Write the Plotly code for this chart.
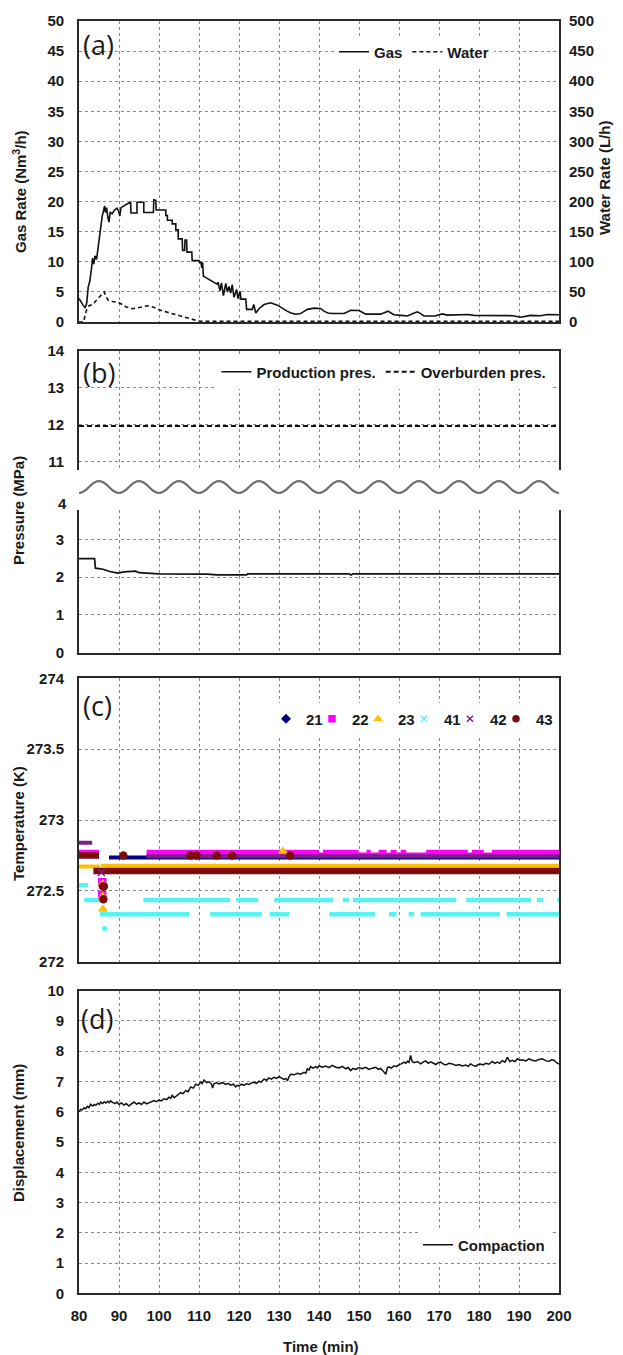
import plotly.graph_objects as go
import numpy as np

# ---------------- data ----------------
# (a) gas production rate, Nm3/h
gas_readings = [
    (80.0, 3.9), (80.5, 3.3), (81.0, 2.8), (81.5, 2.4), (81.9, 3.0), (82.3, 5.8), (82.7, 6.8),
    (83.1, 8.8), (83.4, 10.6), (83.7, 9.6), (84.0, 11.0), (84.4, 10.4), (84.8, 12.6), (85.1, 14.0),
    (85.4, 16.2), (85.8, 17.6), (86.1, 18.4), (86.4, 19.3), (86.6, 18.2), (86.9, 19.0), (87.2, 17.4),
    (87.5, 16.6), (87.8, 18.2), (88.3, 18.0), (88.9, 18.6), (89.5, 18.9), (89.9, 18.4), (90.2, 17.6),
    (90.5, 19.0), (91.3, 19.4), (92.0, 19.6), (92.9, 19.9), (93.0, 18.1), (94.5, 18.1), (94.5, 19.9),
    (96.2, 19.9), (96.2, 18.2), (98.6, 18.2), (98.7, 20.3), (99.2, 20.2), (99.3, 18.6), (101.7, 18.6),
    (101.7, 17.7), (102.1, 17.7), (102.1, 16.9), (103.3, 16.9), (103.3, 16.3), (104.2, 16.3),
    (104.2, 15.3), (104.8, 15.3), (104.8, 13.8), (105.8, 13.8), (105.9, 11.9), (106.4, 11.9),
    (106.5, 13.6), (106.9, 13.6), (107.0, 11.6), (108.2, 11.6), (108.3, 10.2), (110.0, 10.2),
    (110.1, 9.9), (110.5, 9.9), (110.7, 9.0), (110.9, 9.9), (111.1, 7.6), (111.4, 7.5), (112.5, 7.1),
    (113.5, 6.7), (114.5, 6.3), (114.75, 6.6), (115.25, 5.2), (115.6, 6.5), (116.1, 4.4), (116.7, 6.4),
    (117.1, 5.0), (117.5, 5.9), (117.9, 4.8), (118.3, 6.2), (118.75, 4.1), (119.4, 5.4), (119.75, 3.9),
    (120.25, 5.1), (120.5, 3.8), (121.7, 3.8), (121.9, 2.1), (123.3, 2.1), (123.7, 2.9), (124.2, 1.5),
    (125.0, 2.2), (126.25, 2.9), (127.9, 3.2), (129.6, 2.8), (131.0, 2.2), (132.0, 1.8), (133.0, 1.5),
    (134.2, 1.3), (135.4, 1.4), (136.3, 1.8), (137.1, 2.1), (138.8, 2.3), (140.4, 2.25), (141.25, 1.8),
    (142.2, 1.5), (143.3, 1.4), (146.25, 1.4), (147.2, 1.7), (147.9, 1.95), (150.0, 1.9), (150.8, 1.6),
    (151.7, 1.3), (155.4, 1.3), (156.3, 1.6), (157.25, 1.8), (158.0, 1.5), (158.75, 1.2), (160.5, 1.1),
    (162.1, 1.0), (163.5, 1.4), (164.6, 1.7), (165.4, 1.4), (166.25, 1.0), (169.0, 1.0), (170.0, 1.2),
    (170.8, 1.35), (172.1, 1.15), (174.0, 1.2), (176.25, 1.3), (177.3, 1.25), (178.75, 1.1),
    (185.4, 1.1), (187.0, 1.15), (188.5, 1.05), (190.4, 0.8), (191.5, 0.95), (192.9, 1.1),
    (195.4, 1.05), (197.1, 1.25), (200.0, 1.2),
]
gas_time = [p[0] for p in gas_readings]
gas_rate = [p[1] for p in gas_readings]

# (a) water production rate, L/h
water_time = [80.0, 81.2, 81.5, 81.9, 82.5, 83.4, 84.6, 85.6, 86.3, 86.8, 87.3, 88.4, 89.7, 90.8,
              91.8, 93.4, 95.1, 97.2, 98.5, 100.2, 102.7, 105.2, 107.7, 109.8, 111.1, 150.0, 200.0]
water_rate = [0, 0, 12, 20, 27, 29, 38, 45, 50, 42, 36, 34, 33, 29,
              25, 22, 24, 27, 25, 20, 15, 10, 5.5, 1.8, 1.0, 1.0, 1.0]

# (b) pressures, MPa
prod_time = [80.0, 83.9, 84.1, 86.0, 87.7, 89.7, 91.2, 94.2, 95.0, 100.0, 112.0, 114.5, 121.9,
             122.2, 147.5, 148.0, 148.5, 157.0, 157.4, 157.8, 200.0]
prod_pres = [2.49, 2.49, 2.24, 2.21, 2.15, 2.11, 2.14, 2.16, 2.12, 2.09, 2.08, 2.06, 2.06,
             2.09, 2.09, 2.06, 2.09, 2.09, 2.07, 2.09, 2.09]
over_time = [80.0, 200.0]
over_pres = [11.97, 11.97]

# (c) temperature sensors: (start min, end min, K) runs
sensor_names = ["21", "22", "23", "41", "42", "43"]
runs_21 = [(87.5, 200.0, 272.735)]
runs_22 = [(80.0, 85.0, 272.775), (96.9, 200.0, 272.755), (96.9, 140.0, 272.775), (141.0, 149.9, 272.775),
           (151.9, 152.9, 272.775), (154.9, 156.9, 272.775), (157.9, 159.4, 272.775),
           (160.4, 161.8, 272.775), (166.8, 177.2, 272.775), (178.2, 181.2, 272.775),
           (183.2, 200.0, 272.775)]
runs_23 = [(80.0, 85.3, 272.672), (85.5, 200.0, 272.678)]
runs_41 = [(80.0, 82.3, 272.54), (81.3, 85.5, 272.435), (96.1, 117.8, 272.435), (119.3, 124.8, 272.435),
           (128.8, 143.6, 272.435), (146.0, 147.5, 272.435), (148.5, 174.3, 272.435),
           (176.8, 193.0, 272.435), (194.5, 196.0, 272.435), (199.6, 200.0, 272.435),
           (85.2, 107.5, 272.335), (112.8, 125.7, 272.335), (127.7, 132.6, 272.335),
           (142.6, 154.0, 272.335), (157.5, 159.4, 272.335), (162.4, 163.8, 272.335),
           (165.4, 185.2, 272.335), (186.9, 200.0, 272.335), (85.8, 87.0, 272.235)]
runs_42 = [(80.0, 83.3, 272.84), (96.9, 200.0, 272.745)]
runs_43 = [(80.0, 85.0, 272.75), (83.6, 200.0, 272.64)]
sensor_runs = [runs_21, runs_22, runs_23, runs_41, runs_42, runs_43]
# isolated readings
pts_22_t, pts_22_T = [85.8, 85.8], [272.56, 272.47]
pts_23_t, pts_23_T = [85.9, 85.9, 86.0, 131.0], [272.55, 272.46, 272.37, 272.78]
pts_42_t, pts_42_T = [85.6], [272.63]
pts_43_t, pts_43_T = [86.0, 86.2, 86.1, 91.1, 107.9, 109.4, 114.4, 118.3, 132.8], \
                     [272.53, 272.53, 272.44, 272.75, 272.75, 272.75, 272.75, 272.75, 272.75]

# (d) compaction displacement, mm
compaction_readings = [
    (80.0, 6.00), (80.4, 6.08), (80.8, 6.06), (81.3, 6.13), (81.7, 6.10), (82.1, 6.18), (82.5, 6.14),
    (82.9, 6.25), (83.4, 6.19), (83.8, 6.24), (84.2, 6.21), (84.7, 6.28), (85.1, 6.24), (85.4, 6.32),
    (85.9, 6.27), (86.3, 6.33), (86.7, 6.29), (87.2, 6.35), (87.6, 6.30), (87.9, 6.36), (88.4, 6.31),
    (89.0, 6.27), (89.5, 6.32), (90.0, 6.24), (90.6, 6.29), (91.25, 6.22), (91.8, 6.27), (92.5, 6.19),
    (93.1, 6.26), (93.75, 6.32), (94.4, 6.25), (95.0, 6.29), (95.6, 6.24), (96.25, 6.32), (96.9, 6.26),
    (97.5, 6.29), (98.1, 6.33), (98.75, 6.37), (99.4, 6.33), (100.0, 6.39), (100.6, 6.36),
    (101.25, 6.43), (101.9, 6.40), (102.5, 6.48), (102.9, 6.44), (103.3, 6.54), (103.8, 6.46),
    (104.2, 6.50), (104.8, 6.58), (105.4, 6.63), (106.0, 6.60), (106.7, 6.70), (107.3, 6.66),
    (107.9, 6.82), (108.6, 6.78), (109.2, 6.91), (109.8, 6.87), (110.4, 6.98), (110.8, 6.93),
    (111.25, 7.05), (111.9, 6.96), (112.5, 6.99), (113.1, 6.92), (113.4, 6.78), (113.75, 6.93),
    (114.4, 6.96), (115.0, 6.92), (115.8, 6.96), (116.7, 6.90), (117.3, 6.94), (117.9, 6.88),
    (118.6, 6.91), (119.2, 6.82), (119.6, 6.88), (120.0, 6.85), (120.6, 6.91), (121.25, 6.87),
    (121.9, 6.93), (122.5, 6.90), (123.1, 6.95), (123.75, 6.97), (124.4, 6.94), (125.0, 7.01),
    (125.6, 6.98), (126.25, 7.08), (126.9, 7.04), (127.5, 7.12), (128.1, 7.08), (128.75, 7.14),
    (129.4, 7.10), (130.0, 7.16), (130.6, 7.12), (131.25, 7.07), (131.7, 7.10), (132.1, 7.02),
    (132.5, 7.15), (132.9, 7.24), (133.8, 7.22), (134.6, 7.27), (135.4, 7.24), (136.25, 7.30),
    (136.7, 7.27), (137.1, 7.42), (137.5, 7.38), (137.9, 7.49), (138.5, 7.44), (139.2, 7.49),
    (139.6, 7.45), (140.0, 7.52), (140.8, 7.47), (141.7, 7.51), (142.5, 7.46), (143.3, 7.53),
    (144.2, 7.47), (145.0, 7.45), (145.8, 7.50), (146.7, 7.42), (147.3, 7.46), (147.9, 7.36),
    (148.5, 7.43), (149.2, 7.40), (150.0, 7.46), (150.8, 7.42), (151.7, 7.47), (152.5, 7.40),
    (153.3, 7.44), (154.2, 7.47), (154.8, 7.40), (155.4, 7.43), (156.0, 7.35), (156.7, 7.24),
    (157.1, 7.45), (157.5, 7.48), (158.1, 7.44), (158.75, 7.52), (159.4, 7.49), (160.0, 7.56),
    (160.6, 7.58), (161.25, 7.64), (161.7, 7.60), (162.1, 7.67), (162.5, 7.63), (162.9, 7.86),
    (163.3, 7.66), (163.75, 7.62), (164.6, 7.66), (165.4, 7.58), (166.0, 7.64), (166.7, 7.68),
    (167.3, 7.60), (167.9, 7.65), (168.5, 7.61), (169.2, 7.56), (169.8, 7.62), (170.4, 7.64),
    (171.0, 7.58), (171.7, 7.55), (172.5, 7.60), (173.3, 7.58), (174.2, 7.53), (175.0, 7.56),
    (175.8, 7.51), (176.7, 7.54), (177.3, 7.50), (177.9, 7.58), (178.5, 7.53), (179.2, 7.50),
    (179.8, 7.56), (180.4, 7.58), (181.0, 7.55), (181.7, 7.60), (182.5, 7.57), (183.3, 7.66),
    (184.0, 7.60), (184.6, 7.64), (185.2, 7.60), (185.8, 7.69), (186.5, 7.64), (187.1, 7.80),
    (187.7, 7.66), (188.3, 7.70), (189.0, 7.66), (189.6, 7.75), (190.2, 7.70), (190.8, 7.72),
    (191.7, 7.68), (192.5, 7.75), (193.3, 7.70), (194.2, 7.68), (195.0, 7.73), (195.8, 7.75),
    (196.7, 7.69), (197.5, 7.66), (198.1, 7.72), (198.75, 7.70), (199.4, 7.62), (200.0, 7.57),
]
comp_time = [p[0] for p in compaction_readings]
comp_mm = [p[1] for p in compaction_readings]

x_ticks = list(range(80, 201, 10))

# ---------------- layout helpers ----------------
# The page body adds an 8 px offset, so the figure is 8 px smaller and every
# reference-pixel position is shifted by that offset.
OFF = 8
W, H = 623 - OFF, 1355 - OFF
X0, X1 = 79 - OFF, 559 - OFF
FONT = "Liberation Sans, Arial, sans-serif"
TICKFONT = dict(family=FONT, size=15, color="#1a1a1a", weight="bold")
LINE = "#2a2a2a"
LW = 1.8
GRID = dict(showgrid=True, gridcolor="#8a8a8a", griddash="dot", gridwidth=1, zeroline=False)


def fx(rx):
    return (rx - OFF) / W


def fy(ry):
    return 1 - (ry - OFF) / H


def dom(top, bottom):
    return [fy(bottom), fy(top)]


def xax(anchor, side="bottom", showline=True, mirror=True, labels=False):
    return dict(range=[80, 200], tickvals=x_ticks, anchor=anchor, domain=[X0 / W, X1 / W], side=side,
                showline=showline, mirror=mirror, linecolor=LINE, linewidth=LW, ticks="",
                showticklabels=labels, tickfont=TICKFONT, ticklabelstandoff=8, **GRID)


def yax(anchor, top, bottom, rng, dtick, mirror=True):
    return dict(range=rng, dtick=dtick, tick0=0, anchor=anchor, domain=dom(top, bottom), showline=True,
                mirror=mirror, linecolor=LINE, linewidth=LW, ticks="", tickfont=TICKFONT,
                ticklabelstandoff=10, **GRID)


fig = go.Figure()

# (a)
fig.add_trace(go.Scatter(x=gas_time, y=gas_rate, name="Gas", mode="lines", xaxis="x", yaxis="y",
                         line=dict(color="#111111", width=1.6), legend="legend"))
fig.add_trace(go.Scatter(x=water_time, y=water_rate, name="Water", mode="lines", xaxis="x", yaxis="y2",
                         line=dict(color="#111111", width=1.6, dash="4px,3px"), legend="legend"))
# (b)
fig.add_trace(go.Scatter(x=prod_time, y=prod_pres, name="Production pres.", mode="lines", xaxis="x3",
                         yaxis="y4", line=dict(color="#111111", width=1.7), legend="legend2"))
fig.add_trace(go.Scatter(x=over_time, y=over_pres, name="Overburden pres.", mode="lines", xaxis="x2",
                         yaxis="y3", line=dict(color="#111111", width=2, dash="5px,3px"), legend="legend2"))

# (c)
colors = {"21": "#000080", "22": "#FF00FF", "23": "#FFC000", "41": "#55F4F4", "42": "#7E1F86", "43": "#7F0A0A"}
widths = {"21": 4, "22": 4.5, "23": 4, "41": 4.5, "42": 4, "43": 6.5}
symbols = {"21": "diamond", "22": "square", "23": "triangle-up", "41": "x-thin-open", "42": "x-thin-open",
           "43": "circle"}
for name, runs in zip(sensor_names, sensor_runs):
    xs, ys = [], []
    for (t0, t1, T) in runs:
        xs += [t0, t1, None]
        ys += [T, T, None]
    fig.add_trace(go.Scatter(x=xs, y=ys, mode="lines", xaxis="x4", yaxis="y5", showlegend=False,
                             line=dict(color=colors[name], width=widths[name]), hoverinfo="skip"))
for name, tt, TT in [("22", pts_22_t, pts_22_T), ("23", pts_23_t, pts_23_T), ("42", pts_42_t, pts_42_T),
                     ("43", pts_43_t, pts_43_T)]:
    fig.add_trace(go.Scatter(x=tt, y=TT, mode="markers", xaxis="x4", yaxis="y5", showlegend=False,
                             marker=dict(color=colors[name], size=7, symbol=symbols[name],
                                         line=dict(color=colors[name], width=1.5))))
for name in sensor_names:
    fig.add_trace(go.Scatter(x=[None], y=[None], mode="markers", name=name, xaxis="x4", yaxis="y5",
                             legend="legend3", legendwidth=(18 if name == sensor_names[-1] else 1),
                             marker=dict(color=colors[name], size=6, symbol=symbols[name],
                                         line=dict(color=colors[name], width=1.5))))

# (d)
fig.add_trace(go.Scatter(x=comp_time, y=comp_mm, name="Compaction", mode="lines", xaxis="x5", yaxis="y6",
                         line=dict(color="#111111", width=1.5), legend="legend4"))

# axis-break wave between the two pressure sections
wx = np.linspace(80, 200, 241)
wy = [fy(487 + 6 * np.cos(2 * np.pi * (v - 80) / 10)) for v in wx]
path = "M " + " L ".join(f"{a:.3f},{b:.5f}" for a, b in zip(wx, wy))

legend_common = dict(orientation="h", bgcolor="white", borderwidth=0, itemwidth=30,
                     font=dict(family=FONT, size=15, color="#1a1a1a", weight="bold"),
                     xanchor="center", yanchor="middle", tracegroupgap=0)

ann_font = dict(family=FONT, size=15, color="#1a1a1a", weight="bold")
lab_font = dict(family="Open Sans, sans-serif", size=27, color="#1a1a1a")


def ann(text, rx, ry, angle=0, font=ann_font, xa="center", ya="middle"):
    return dict(text=text, x=fx(rx), y=fy(ry), xref="paper", yref="paper", showarrow=False,
                textangle=angle, font=font, xanchor=xa, yanchor=ya)


fig.update_layout(
    width=W, height=H, margin=dict(l=0, r=0, t=0, b=0, autoexpand=False), template="none",
    paper_bgcolor="white", plot_bgcolor="white", showlegend=True,
    xaxis=xax("y"),
    yaxis=yax("x", 21, 322, [0, 50], 5),
    yaxis2=dict(range=[0, 500], dtick=50, tick0=0, overlaying="y", side="right", anchor="x",
                showgrid=False, zeroline=False, showline=False, ticks="", tickfont=TICKFONT,
                ticklabelstandoff=9),
    xaxis2=xax("y3", side="top", mirror=False),
    yaxis3=yax("x2", 350.7, 470, [10.78, 14], 1),
    xaxis3=xax("y4", side="bottom", mirror=False),
    yaxis4=yax("x3", 510, 652.7, [0, 3.78], 1),
    xaxis4=xax("y5"),
    yaxis5=dict(yax("x4", 678.3, 961.7, [272, 274], 0.5), tickformat=".1~f", tick0=272),
    xaxis5=xax("y6", labels=True),
    yaxis6=yax("x5", 990.7, 1293.3, [0, 10], 1),
    legend=dict(legend_common, x=fx(414), y=fy(52)),
    legend2=dict(legend_common, x=fx(384), y=fy(372)),
    legend3=dict(legend_common, x=fx(266), y=fy(719), xanchor="left", entrywidth=1),
    legend4=dict(legend_common, x=fx(484), y=fy(1245)),
    shapes=[dict(type="path", path=path, xref="x3", yref="paper",
                 line=dict(color="#6e6e6e", width=2.2))],
    annotations=[
        ann("(a)", 81, 24, font=lab_font, xa="left", ya="top"),
        ann("(b)", 81, 352, font=lab_font, xa="left", ya="top"),
        ann("(c)", 81, 685, font=lab_font, xa="left", ya="top"),
        ann("(d)", 79, 998, font=lab_font, xa="left", ya="top"),
        ann("Gas Rate (Nm<sup>3</sup>/h)", 20, 192, angle=-90),
        ann("Water Rate (L/h)", 604, 178, angle=-90),
        ann("Pressure (MPa)", 18, 511, angle=-90),
        ann("Temperature (K)", 18, 824, angle=-90),
        ann("Displacement (mm)", 18, 1133, angle=-90),
        ann("Time (min)", 321, 1346),
        ann("4", 69, 503, font=TICKFONT, xa="right"),
    ],
)

fig.write_html("out.html")
